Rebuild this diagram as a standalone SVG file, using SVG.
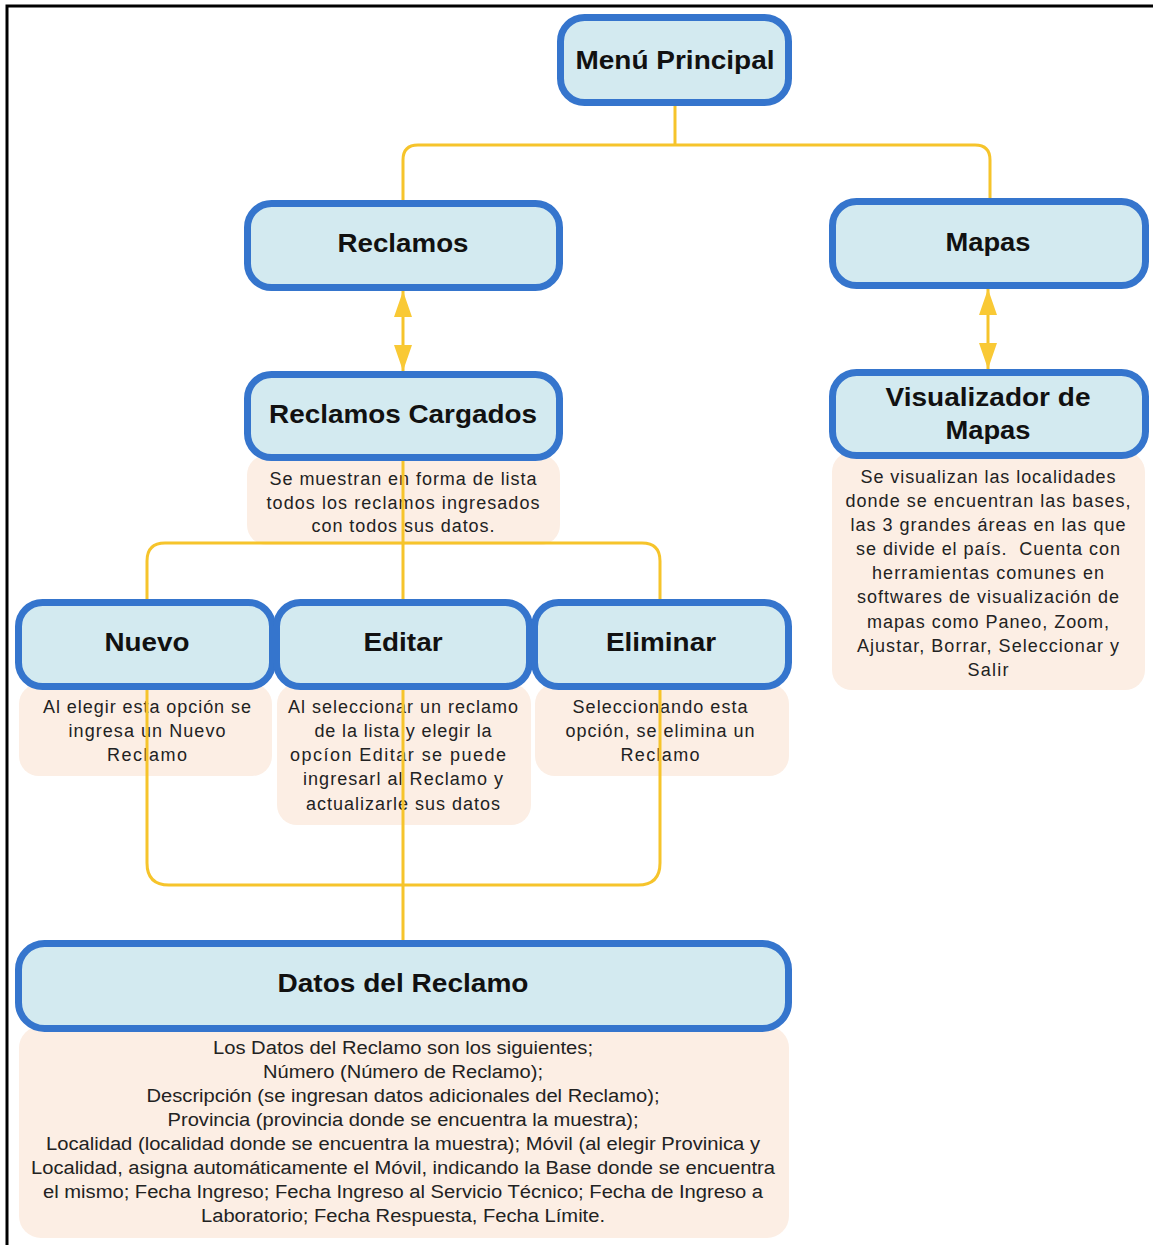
<svg xmlns="http://www.w3.org/2000/svg" width="1153" height="1245" viewBox="0 0 1153 1245">
<style>
.box{fill:#D3EAF0;stroke:#3575CD;stroke-width:7}
.note{fill:#FCEEE4}
.t{font-family:"Liberation Sans",Arial,sans-serif;font-weight:bold;font-size:26px;fill:#111;text-anchor:middle}
.n{font-family:"Liberation Sans",Arial,sans-serif;font-size:18px;fill:#222;text-anchor:middle}
.d{font-family:"Liberation Sans",Arial,sans-serif;font-size:18px;fill:#222;text-anchor:middle}
.c{fill:none;stroke:#F6C42B;stroke-width:3;stroke-linejoin:round}
</style>
<defs>
<marker id="ah" viewBox="0 0 26 18" refX="26" refY="9" markerWidth="26" markerHeight="18" markerUnits="userSpaceOnUse" orient="auto-start-reverse">
<path d="M0,0 L26,9 L0,18 Z" fill="#F9C935"/>
</marker>
</defs>
<rect width="1153" height="1245" fill="#fff"/>
<path d="M7,1245 V6 H1153" fill="none" stroke="#000" stroke-width="3"/>

<g id="note-reclamos-cargados">
<rect class="note" x="247" y="455" width="313" height="90" rx="20"/>
<text class="n" x="403" y="485" textLength="267" lengthAdjust="spacing">Se muestran en forma de lista</text>
<text class="n" x="403" y="509" textLength="273" lengthAdjust="spacing">todos los reclamos ingresados</text>
<text class="n" x="403" y="532" textLength="183" lengthAdjust="spacing">con todos sus datos.</text>
</g>
<g id="note-visualizador">
<rect class="note" x="832" y="452" width="313" height="238" rx="20"/>
<text class="n" x="988" y="483" textLength="255" lengthAdjust="spacing">Se visualizan las localidades</text>
<text class="n" x="988" y="507" textLength="285" lengthAdjust="spacing">donde se encuentran las bases,</text>
<text class="n" x="988" y="531" textLength="275" lengthAdjust="spacing">las 3 grandes áreas en las que</text>
<text class="n" x="988" y="555" textLength="264" lengthAdjust="spacing" xml:space="preserve">se divide el país.  Cuenta con</text>
<text class="n" x="988" y="579" textLength="232" lengthAdjust="spacing">herramientas comunes en</text>
<text class="n" x="988" y="603" textLength="262" lengthAdjust="spacing">softwares de visualización de</text>
<text class="n" x="988" y="628" textLength="242" lengthAdjust="spacing">mapas como Paneo, Zoom,</text>
<text class="n" x="988" y="652" textLength="262" lengthAdjust="spacing">Ajustar, Borrar, Seleccionar y</text>
<text class="n" x="988" y="676" textLength="41" lengthAdjust="spacing">Salir</text>
</g>
<g id="note-nuevo">
<rect class="note" x="19" y="684" width="253" height="92" rx="20"/>
<text class="n" x="147" y="713" textLength="208" lengthAdjust="spacing">Al elegir esta opción se</text>
<text class="n" x="147" y="737" textLength="157" lengthAdjust="spacing">ingresa un Nuevo</text>
<text class="n" x="147" y="761" textLength="80" lengthAdjust="spacing">Reclamo</text>
</g>
<g id="note-editar">
<rect class="note" x="277" y="684" width="254" height="141" rx="20"/>
<text class="n" x="403" y="713" textLength="230" lengthAdjust="spacing">Al seleccionar un reclamo</text>
<text class="n" x="403" y="737" textLength="177" lengthAdjust="spacing">de la lista y elegir la</text>
<text class="n" x="398" y="761" textLength="216" lengthAdjust="spacing">opcíon Editar se puede</text>
<text class="n" x="403" y="785" textLength="200" lengthAdjust="spacing">ingresarl al Reclamo y</text>
<text class="n" x="403" y="810" textLength="194" lengthAdjust="spacing">actualizarle sus datos</text>
</g>
<g id="note-eliminar">
<rect class="note" x="535" y="684" width="254" height="92" rx="20"/>
<text class="n" x="660" y="713" textLength="175" lengthAdjust="spacing">Seleccionando esta</text>
<text class="n" x="660" y="737" textLength="189" lengthAdjust="spacing">opción, se elimina un</text>
<text class="n" x="660" y="761" textLength="79" lengthAdjust="spacing">Reclamo</text>
</g>
<g id="note-datos">
<rect class="note" x="19" y="1026" width="770" height="212" rx="22"/>
<text class="d" x="403" y="1054" textLength="380" lengthAdjust="spacingAndGlyphs">Los Datos del Reclamo son los siguientes;</text>
<text class="d" x="403" y="1078" textLength="280" lengthAdjust="spacingAndGlyphs">Número (Número de Reclamo);</text>
<text class="d" x="403" y="1102" textLength="513" lengthAdjust="spacingAndGlyphs">Descripción (se ingresan datos adicionales del Reclamo);</text>
<text class="d" x="403" y="1126" textLength="471" lengthAdjust="spacingAndGlyphs">Provincia (provincia donde se encuentra la muestra);</text>
<text class="d" x="403" y="1150" textLength="714" lengthAdjust="spacingAndGlyphs">Localidad (localidad donde se encuentra la muestra); Móvil (al elegir Provinica y</text>
<text class="d" x="403" y="1174" textLength="744" lengthAdjust="spacingAndGlyphs">Localidad, asigna automáticamente el Móvil, indicando la Base donde se encuentra</text>
<text class="d" x="403" y="1198" textLength="720" lengthAdjust="spacingAndGlyphs">el mismo; Fecha Ingreso; Fecha Ingreso al Servicio Técnico; Fecha de Ingreso a</text>
<text class="d" x="403" y="1222" textLength="404" lengthAdjust="spacingAndGlyphs">Laboratorio; Fecha Respuesta, Fecha Límite.</text>
</g>

<g id="connectors">
<path class="c" d="M675,106 V145"/>
<path class="c" d="M403,201 V160 Q403,145 418,145 H975 Q990,145 990,160 V199"/>
<path class="c" d="M403,291 V371" marker-start="url(#ah)" marker-end="url(#ah)"/>
<path class="c" d="M988,289 V369" marker-start="url(#ah)" marker-end="url(#ah)"/>
<path class="c" d="M403,461 V941"/>
<path class="c" d="M147,601 V561 Q147,543 165,543 H642 Q660,543 660,561 V601"/>
<path class="c" d="M147,688 V863 Q147,885 169,885 H638 Q660,885 660,863 V688"/>
</g>

<g id="menu-principal">
<rect class="box" x="560.5" y="17.5" width="228" height="85" rx="24"/>
<text class="t" x="675" y="69" textLength="199" lengthAdjust="spacingAndGlyphs">Menú Principal</text>
</g>
<g id="reclamos">
<rect class="box" x="247.5" y="203.5" width="312" height="84" rx="24"/>
<text class="t" x="403" y="252" textLength="131" lengthAdjust="spacingAndGlyphs">Reclamos</text>
</g>
<g id="mapas">
<rect class="box" x="832.5" y="201.5" width="313" height="84" rx="24"/>
<text class="t" x="988" y="251" textLength="85" lengthAdjust="spacingAndGlyphs">Mapas</text>
</g>
<g id="reclamos-cargados">
<rect class="box" x="247.5" y="374.5" width="312" height="83" rx="24"/>
<text class="t" x="403" y="423" textLength="268" lengthAdjust="spacingAndGlyphs">Reclamos Cargados</text>
</g>
<g id="visualizador-de-mapas">
<rect class="box" x="832.5" y="372.5" width="313" height="83" rx="24"/>
<text class="t" x="988" y="406" textLength="205" lengthAdjust="spacingAndGlyphs">Visualizador de</text>
<text class="t" x="988" y="439" textLength="85" lengthAdjust="spacingAndGlyphs">Mapas</text>
</g>
<g id="nuevo">
<rect class="box" x="18.5" y="602.5" width="254" height="84" rx="24"/>
<text class="t" x="147" y="651" textLength="85" lengthAdjust="spacingAndGlyphs">Nuevo</text>
</g>
<g id="editar">
<rect class="box" x="276.5" y="602.5" width="253" height="84" rx="24"/>
<text class="t" x="403" y="651" textLength="79" lengthAdjust="spacingAndGlyphs">Editar</text>
</g>
<g id="eliminar">
<rect class="box" x="534.5" y="602.5" width="254" height="84" rx="24"/>
<text class="t" x="661" y="651" textLength="110" lengthAdjust="spacingAndGlyphs">Eliminar</text>
</g>
<g id="datos-del-reclamo">
<rect class="box" x="18.5" y="943.5" width="770" height="85" rx="26"/>
<text class="t" x="403" y="992" textLength="251" lengthAdjust="spacingAndGlyphs">Datos del Reclamo</text>
</g>
</svg>
